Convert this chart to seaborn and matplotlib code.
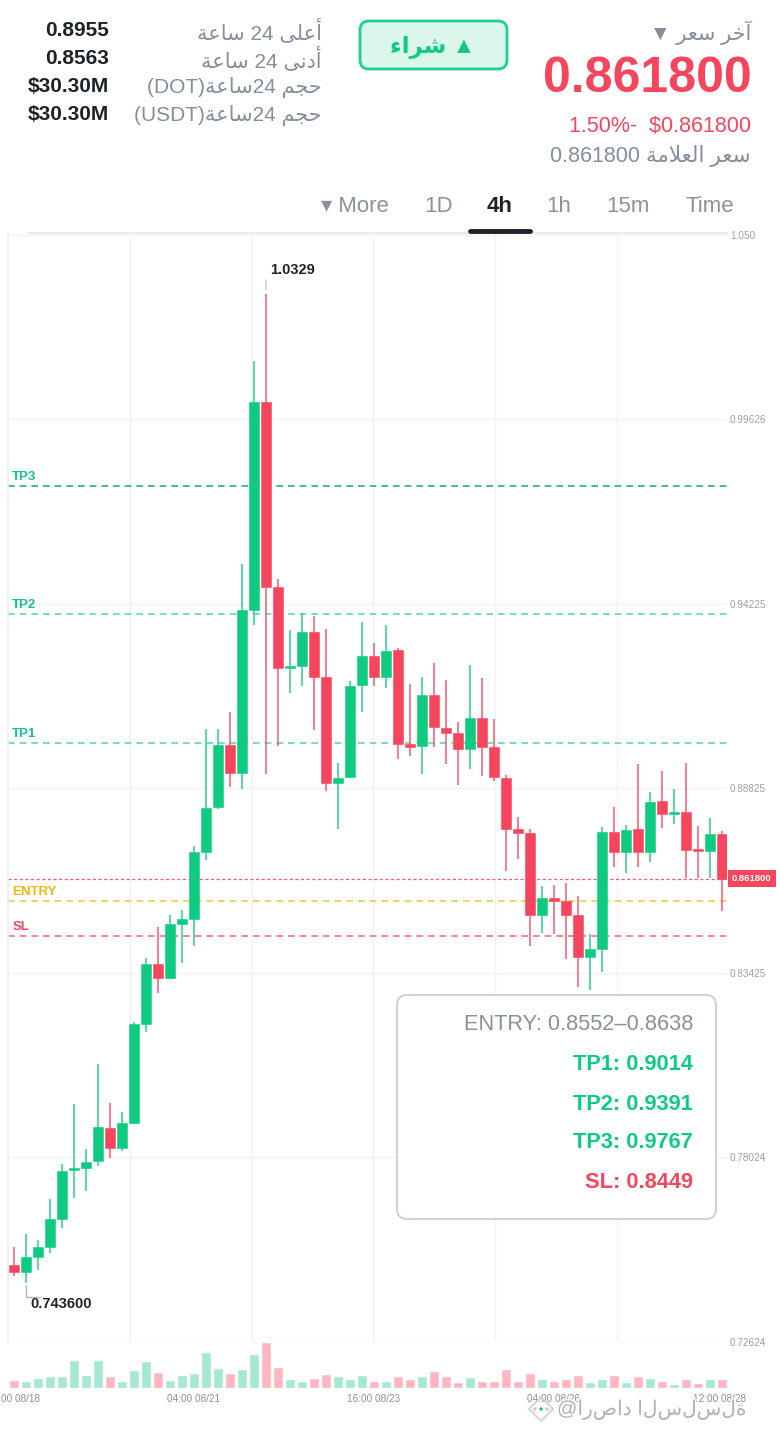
import matplotlib

matplotlib.use("Agg")

import numpy as np
import pandas as pd
import matplotlib.pyplot as plt
import seaborn as sns
import matplotlib.patheffects as pe
from matplotlib.patches import FancyBboxPatch, Rectangle, RegularPolygon, Circle
from matplotlib.transforms import Affine2D

W, H = 780, 1434

# --- 4h candles ---
opens = [0.7488, 0.7468, 0.7511, 0.7541, 0.7623, 0.7766, 0.7772, 0.7792, 0.7889, 0.7830,
         0.7903, 0.8193, 0.8369, 0.8328, 0.8486, 0.8500, 0.8696, 0.8828, 0.9009, 0.8927,
         0.9404, 1.0012, 0.9471, 0.9234, 0.9240, 0.9340, 0.9208, 0.8898, 0.8916, 0.9185,
         0.9269, 0.9208, 0.9287, 0.9012, 0.9006, 0.9155, 0.9059, 0.9044, 0.8997, 0.9088,
         0.9003, 0.8913, 0.8763, 0.8752, 0.8512, 0.8562, 0.8553, 0.8512, 0.8389, 0.8412,
         0.8755, 0.8696, 0.8763, 0.8696, 0.8845, 0.8807, 0.8813, 0.8702, 0.8699, 0.8749]
highs = [0.7541, 0.7579, 0.7561, 0.7681, 0.7784, 0.7959, 0.7827, 0.8076, 0.7962, 0.7936,
         0.8199, 0.8386, 0.8477, 0.8512, 0.8526, 0.8714, 0.9056, 0.9056, 0.9106, 0.9539,
         1.0132, 1.0329, 0.9495, 0.9345, 0.9395, 0.9386, 0.9348, 0.8956, 0.9196, 0.9369,
         0.9307, 0.9360, 0.9293, 0.9188, 0.9208, 0.9249, 0.9199, 0.9076, 0.9243, 0.9205,
         0.9085, 0.8921, 0.8799, 0.8763, 0.8597, 0.8600, 0.8605, 0.8567, 0.8456, 0.8769,
         0.8828, 0.8775, 0.8954, 0.8872, 0.8933, 0.8880, 0.8956, 0.8772, 0.8796, 0.8758]
lows = [0.7456, 0.7436, 0.7473, 0.7523, 0.7596, 0.7684, 0.7704, 0.7778, 0.7801, 0.7822,
        0.7900, 0.8170, 0.8284, 0.8325, 0.8371, 0.8421, 0.8673, 0.8822, 0.8886, 0.8880,
        0.9360, 0.8924, 0.9006, 0.9161, 0.9182, 0.9053, 0.8874, 0.8763, 0.8913, 0.9106,
        0.9182, 0.9176, 0.8968, 0.8977, 0.8924, 0.9003, 0.8954, 0.8892, 0.8939, 0.8918,
        0.8904, 0.8641, 0.8676, 0.8421, 0.8459, 0.8456, 0.8383, 0.8301, 0.8292, 0.8345,
        0.8652, 0.8635, 0.8652, 0.8667, 0.8766, 0.8778, 0.8620, 0.8620, 0.8620, 0.8524]
closes = [0.7468, 0.7511, 0.7541, 0.7623, 0.7763, 0.7772, 0.7789, 0.7892, 0.7830, 0.7903,
          0.8193, 0.8369, 0.8328, 0.8486, 0.8500, 0.8696, 0.8825, 0.9009, 0.8927, 0.9404,
          1.0012, 0.9471, 0.9234, 0.9240, 0.9340, 0.9208, 0.8898, 0.8913, 0.9182, 0.9269,
          0.9208, 0.9284, 0.9012, 0.9003, 0.9155, 0.9062, 0.9044, 0.8997, 0.9088, 0.9003,
          0.8916, 0.8763, 0.8752, 0.8512, 0.8562, 0.8553, 0.8512, 0.8389, 0.8412, 0.8755,
          0.8696, 0.8760, 0.8696, 0.8842, 0.8807, 0.8810, 0.8702, 0.8699, 0.8749, 0.8618]
volumes = [40, 32, 50, 56, 59, 134, 64, 134, 56, 35,
           85, 128, 76, 39, 62, 71, 173, 94, 71, 90,
           163, 221, 99, 43, 35, 50, 65, 59, 42, 61,
           35, 32, 59, 42, 56, 83, 57, 28, 51, 36,
           36, 93, 33, 74, 42, 36, 44, 64, 31, 42,
           61, 30, 58, 48, 35, 17, 45, 23, 43, 43]

price_ticks = [1.050, 0.99626, 0.94225, 0.88825, 0.83425, 0.78024, 0.72624]
price_tick_labels = ["1.050", "0.99626", "0.94225", "0.88825", "0.83425", "0.78024", "0.72624"]
time_ticks = [0, 15, 30, 45, 58.8]
time_labels = ["16:00 08/18", "04:00 08/21", "16:00 08/23", "04:00 08/26", "12:00 08/28"]
grid_x = [9.67, 19.83, 29.92, 40.08, 50.25]

level_names = ["TP3", "TP2", "TP1", "ENTRY", "SL"]
level_values = [0.9767, 0.9391, 0.9014, 0.8552, 0.8449]
entry_high = 0.8638
last_price = 0.8618

GREEN = "#0ecb81"
RED = "#f6465d"
GRAY = "#848e9c"
DARK = "#1e2329"
level_colors = ["#22b37f", "#5cdaab", "#5cdaab", "#f3c84e", "#f6707f"]
label_colors = ["#12c48a", "#12c48a", "#12c48a", "#f0b90b", RED]


# --- minimal Arabic shaping (matplotlib has no RTL shaping) ---
FORMS = {  # isolated, final, initial, medial
    "\u0621": ("\uFE80", None, None, None),
    "\u0622": ("\uFE81", "\uFE82", None, None),
    "\u0623": ("\uFE83", "\uFE84", None, None),
    "\u0627": ("\uFE8D", "\uFE8E", None, None),
    "\u0629": ("\uFE93", "\uFE94", None, None),
    "\u062C": ("\uFE9D", "\uFE9E", "\uFE9F", "\uFEA0"),
    "\u062D": ("\uFEA1", "\uFEA2", "\uFEA3", "\uFEA4"),
    "\u062E": ("\uFEA5", "\uFEA6", "\uFEA7", "\uFEA8"),
    "\u062F": ("\uFEA9", "\uFEAA", None, None),
    "\u0631": ("\uFEAD", "\uFEAE", None, None),
    "\u0633": ("\uFEB1", "\uFEB2", "\uFEB3", "\uFEB4"),
    "\u0634": ("\uFEB5", "\uFEB6", "\uFEB7", "\uFEB8"),
    "\u0639": ("\uFEC9", "\uFECA", "\uFECB", "\uFECC"),
    "\u0644": ("\uFEDD", "\uFEDE", "\uFEDF", "\uFEE0"),
    "\u0645": ("\uFEE1", "\uFEE2", "\uFEE3", "\uFEE4"),
    "\u0646": ("\uFEE5", "\uFEE6", "\uFEE7", "\uFEE8"),
    "\u0649": ("\uFEEF", "\uFEF0", None, None),
}
LAM_ALEF = {"\u0627": ("\uFEFB", "\uFEFC"), "\u0623": ("\uFEF7", "\uFEF8"), "\u0622": ("\uFEF5", "\uFEF6")}


def _dual(c):
    return c in FORMS and FORMS[c][2] is not None


def ar(text):
    chars = list(text)
    out = []
    i = 0
    while i < len(chars):
        c = chars[i]
        prev = chars[i - 1] if i > 0 else None
        joins_prev = prev is not None and _dual(prev) and c in FORMS
        if c == "\u0644" and i + 1 < len(chars) and chars[i + 1] in LAM_ALEF:
            iso, fin = LAM_ALEF[chars[i + 1]]
            out.append(fin if joins_prev else iso)
            i += 2
            continue
        if c not in FORMS:
            out.append(c)
            i += 1
            continue
        nxt = chars[i + 1] if i + 1 < len(chars) else None
        joins_next = _dual(c) and nxt in FORMS
        iso, fin, ini, med = FORMS[c]
        if joins_prev and joins_next:
            out.append(med)
        elif joins_prev:
            out.append(fin)
        elif joins_next:
            out.append(ini)
        else:
            out.append(iso)
        i += 1
    return "".join(out)[::-1]


sns.set_theme(style="white")
plt.rcParams["font.family"] = ["Liberation Sans", "DejaVu Sans"]

fig = plt.figure(figsize=(W / 100, H / 100), dpi=100, facecolor="white")
# pixel coordinates measured from the top-left corner
px = Affine2D().scale(1, -1).translate(0, H)


def fbox(x0, y0, x1, y1):
    return [x0 / W, 1 - y1 / H, (x1 - x0) / W, (y1 - y0) / H]


ax = fig.add_axes(fbox(8, 234, 727, 1342))
axv = fig.add_axes(fbox(8, 1342, 727, 1390))

df = pd.DataFrame({"o": opens, "h": highs, "l": lows, "c": closes, "vol": volumes})
df["idx"] = np.arange(len(df))
df["dir"] = np.where(df["c"] >= df["o"], "up", "down")
colors = np.where(df["dir"] == "up", GREEN, RED)

# wicks and bodies
ax.vlines(df["idx"], df["l"], df["h"], colors=colors, lw=1.3, alpha=0.75, zorder=3)
body_low = np.minimum(df["o"], df["c"])
body_h = np.maximum(np.abs(df["c"] - df["o"]), 0.0006)
ax.bar(df["idx"], body_h, bottom=body_low, width=0.8, color=colors, edgecolor=colors,
       linewidth=0.4, zorder=4)

ax.set_xlim(-0.5, 59.42)
ax.set_ylim(0.72624, 1.0504)
ax.set_yticks(price_ticks, price_tick_labels)
ax.yaxis.tick_right()
ax.tick_params(axis="y", length=0, pad=2, labelsize=7.2, labelcolor="#9aa1ab")
ax.set_xticks(grid_x)
ax.tick_params(axis="x", length=0, labelbottom=False)
ax.grid(True, color="#f2f2f2", lw=1)
for side in ["top", "right", "bottom"]:
    ax.spines[side].set_visible(False)
ax.spines["left"].set_color("#eeeeee")
ax.set_facecolor("white")

# trade levels
ytr = ax.get_yaxis_transform()
for name, val, lc, tc in zip(level_names, level_values, level_colors, label_colors):
    ax.axhline(val, color=lc, lw=1.2, ls=(0, (4, 3)), zorder=2)
    ax.annotate(name, xy=(0.006, val), xycoords=ytr, xytext=(0, 3), textcoords="offset pixels",
                ha="left", va="bottom", fontsize=9.5, fontweight="bold", color=tc)
ax.axhline(last_price, color=RED, lw=0.9, ls=(0, (2.5, 2)), alpha=0.9, zorder=2)
ax.annotate(f"{last_price:.6f}", xy=(1.0, last_price), xycoords=ytr, xytext=(5, 0),
            textcoords="offset pixels", ha="left", va="center", fontsize=6.8,
            fontweight="bold", color="white", annotation_clip=False,
            bbox=dict(boxstyle="square,pad=0.45", fc=RED, ec="none"))

# high / low markers
i_hi = int(np.argmax(highs))
i_lo = int(np.argmin(lows))
ax.annotate("", xy=(i_hi, highs[i_hi]), xytext=(0, 14), textcoords="offset pixels",
            arrowprops=dict(arrowstyle="-", color="#c4c8ce", lw=1, shrinkA=0, shrinkB=3))
ax.annotate(f"{highs[i_hi]:.4f}", xy=(i_hi, highs[i_hi]), xytext=(4, 24),
            textcoords="offset pixels", ha="left", va="center", fontsize=10.5,
            fontweight="bold", color=DARK)
ax.annotate("", xy=(i_lo, lows[i_lo]), xytext=(14, -14), textcoords="offset pixels",
            arrowprops=dict(arrowstyle="-", color="#b0b5bc", lw=1, shrinkA=0, shrinkB=2,
                            connectionstyle="angle,angleA=0,angleB=90,rad=0"))
ax.annotate(f"{lows[i_lo]:.6f}", xy=(i_lo, lows[i_lo]), xytext=(4, -21),
            textcoords="offset pixels", ha="left", va="center", fontsize=10.5,
            fontweight="bold", color=DARK)

# volume
sns.barplot(data=df, x="idx", y="vol", hue="dir", palette={"up": "#a5ead0", "down": "#ffb6c0"},
            native_scale=True, dodge=False, width=0.8, saturation=1, legend=False, ax=axv)
axv.set_xlim(-0.5, 59.42)
axv.set_ylim(-9.6, 221)
axv.set_xticks(time_ticks, time_labels)
axv.set_yticks([])
axv.set_xlabel("")
axv.set_ylabel("")
axv.tick_params(axis="x", length=0, pad=3, labelsize=7.2, labelcolor="#8a919c")
for s in axv.spines.values():
    s.set_visible(False)
axv.set_facecolor("none")

# --- header (drawn above the chart) ---
fig.add_artist(Rectangle((0, 0), W, 231, transform=px, fc="white", ec="none", zorder=1))
fig.add_artist(plt.Line2D([28, 727], [233, 233], transform=px, color="#e9eaec", lw=1.5, zorder=2))
fig.add_artist(plt.Line2D([470, 530], [231, 231], transform=px, color=DARK, lw=3.5, zorder=2))

left_values = ["0.8955", "0.8563", "$30.30M", "$30.30M"]
left_labels = [ar("ساعة") + " 24 " + ar("أعلى"),
               ar("ساعة") + " 24 " + ar("أدنى"),
               "(DOT)" + ar("ساعة") + "24 " + ar("حجم"),
               "(USDT)" + ar("ساعة") + "24 " + ar("حجم")]
for k, (v, lab) in enumerate(zip(left_values, left_labels)):
    y = 31 + 28 * k
    fig.text(109, y, v, transform=px, ha="right", va="center", fontsize=15,
             fontweight="bold", color=DARK)
    fig.text(322, y, lab, transform=px, ha="right", va="center", fontsize=15, color=GRAY)

fig.add_artist(FancyBboxPatch((360, 21), 147, 48, transform=px,
                              boxstyle="round,pad=0,rounding_size=9",
                              fc="#dcf7eb", ec="#1fcf8f", lw=2, zorder=2))
fig.text(433, 46, ar("شراء") + " ▲", transform=px, ha="center", va="center",
         fontsize=16.5, fontweight="bold", color=GREEN)

fig.text(751, 33, "▼ " + ar("سعر") + " " + ar("آخر"), transform=px, ha="right",
         va="center", fontsize=15, color=GRAY)
fig.text(752, 79, f"{last_price:.6f}", transform=px, ha="right", va="center",
         fontsize=36, fontweight="bold", color=RED)
fig.text(751, 126, "1.50%-  $" + f"{last_price:.6f}", transform=px, ha="right",
         va="center", fontsize=15.5, color=RED)
fig.text(751, 156, f"{last_price:.6f} " + ar("سعر العلامة"), transform=px, ha="right",
         va="center", fontsize=15.5, color=GRAY)

tabs = ["▾ More", "1D", "4h", "1h", "15m", "Time"]
tab_x = [355, 439, 500, 559, 628, 710]
for t, x in zip(tabs, tab_x):
    bold = t == "4h"
    fig.text(x, 206, t, transform=px, ha="center", va="center", fontsize=16,
             fontweight="bold" if bold else "normal", color=DARK if bold else "#8a929e")

# --- trade summary box ---
fig.add_artist(FancyBboxPatch((397, 995), 319, 224, transform=px,
                              boxstyle="round,pad=0,rounding_size=10",
                              fc="white", ec="#cfd2d6", lw=1.5, zorder=4))
box_lines = [f"ENTRY: {level_values[3]:.4f}–{entry_high:.4f}",
             f"TP1: {level_values[2]:.4f}", f"TP2: {level_values[1]:.4f}",
             f"TP3: {level_values[0]:.4f}", f"SL: {level_values[4]:.4f}"]
box_colors = ["#8a919c", GREEN, GREEN, GREEN, RED]
box_y = [1025, 1065, 1105, 1142, 1182]
for txt, c, y in zip(box_lines, box_colors, box_y):
    fig.text(693, y, txt, transform=px, ha="right", va="center", fontsize=15.7,
             fontweight="normal" if txt.startswith("ENTRY") else "bold", color=c, zorder=5)

# --- watermark ---
fig.add_artist(RegularPolygon((541, 1409), 4, radius=12, transform=px, fc="none",
                              ec="#c9ccd1", lw=1.5, alpha=0.8, zorder=6))
for dx, dc in zip([-6, 0, 6], ["#ffb6c0", GREEN, "#ffb6c0"]):
    fig.add_artist(Circle((541 + dx, 1409), 2.3, transform=px, fc=dc, ec="white", lw=0.8, zorder=6))
fig.text(557, 1410, "@ارصاد السلسلة", transform=px, ha="left", va="center",
         fontsize=14.5, color="#9ca1a8", alpha=0.75, zorder=6,
         path_effects=[pe.withStroke(linewidth=2.5, foreground="white")])

fig.savefig("out.png", dpi=100, facecolor="white")
